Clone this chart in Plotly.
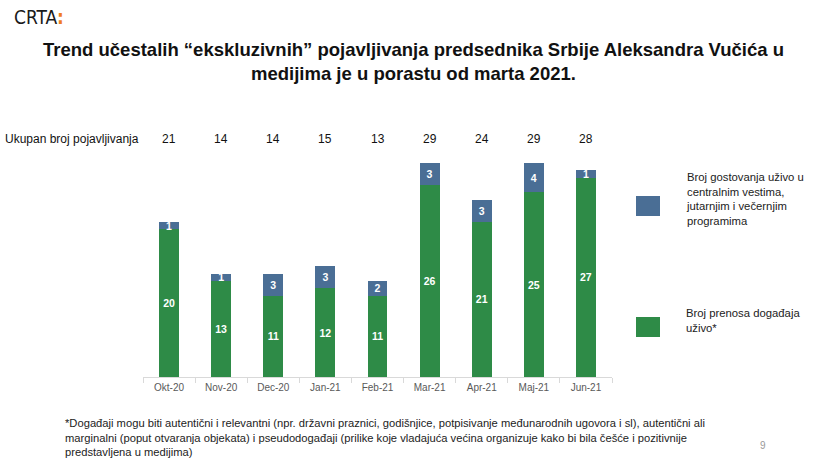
import plotly.graph_objects as go

months = ["Okt-20", "Nov-20", "Dec-20", "Jan-21", "Feb-21", "Mar-21", "Apr-21", "Maj-21", "Jun-21"]
prenos = [20, 13, 11, 12, 11, 26, 21, 25, 27]
gostovanja = [1, 1, 3, 3, 2, 3, 3, 4, 1]
ukupno = [21, 14, 14, 15, 13, 29, 24, 29, 28]

GREEN = "#2E8B47"
BLUE = "#4A6E95"

W, H = 825, 461
pl, pr, pt, pb = 143, 213, 157, 84
pw, ph = W - pl - pr, H - pt - pb


def px_x(x):
    return (x - pl) / pw


def px_y(y):
    return (H - pb - y) / ph


fig = go.Figure()
fig.add_trace(go.Bar(
    x=months, y=prenos, name="Broj prenosa događaja uživo*",
    marker=dict(color=GREEN, line=dict(width=0)),
    text=prenos, textposition="inside", insidetextanchor="middle", textangle=0,
    textfont=dict(color="white", size=10.5, family="Liberation Sans", weight="bold"),
    hoverinfo="x+y", showlegend=False,
))
fig.add_trace(go.Bar(
    x=months, y=gostovanja,
    name="Broj gostovanja uživo u centralnim vestima, jutarnjim i večernjim programima",
    marker=dict(color=BLUE, line=dict(width=0)),
    text=gostovanja, textposition="inside", insidetextanchor="middle", textangle=0,
    textfont=dict(color="white", size=10.5, family="Liberation Sans", weight="bold"),
    hoverinfo="x+y", showlegend=False,
))

fig.update_layout(
    width=W, height=H,
    margin=dict(l=pl, r=pr, t=pt, b=pb),
    paper_bgcolor="white", plot_bgcolor="white",
    barmode="stack", bargap=0.62,
    uniformtext=dict(minsize=9, mode="show"),
    font=dict(family="Liberation Sans", color="#222222"),
    xaxis=dict(
        showline=True, linecolor="#D9D9D9", linewidth=1,
        ticks="outside", tickson="boundaries", ticklen=5, tickcolor="#D9D9D9",
        tickfont=dict(size=10, color="#595959", family="Liberation Sans"),
        ticklabelstandoff=1,
        showgrid=False, zeroline=False, fixedrange=True,
    ),
    yaxis=dict(range=[0, 29.8], visible=False, showgrid=False, zeroline=False, fixedrange=True),
)

# totals row
for m, v in zip(months, ukupno):
    fig.add_annotation(x=m, xref="x", y=px_y(139), yref="paper", text=str(v), showarrow=False,
                       yanchor="middle", font=dict(size=12, color="#111111", family="Liberation Sans"))

ann = [
    dict(x=3, y=139, xanchor="left", text="Ukupan broj pojavljivanja",
         font=dict(size=12, color="#111111", family="Liberation Sans")),
    dict(x=413, y=61, xanchor="center", align="center",
         text="<b>Trend učestalih “ekskluzivnih” pojavljivanja predsednika Srbije Aleksandra Vučića u<br>medijima je u porastu od marta 2021.</b>",
         font=dict(size=18.5, color="#111111", family="Liberation Sans")),
    dict(x=12, y=17, xanchor="left",
         text="CRTA<span style='color:#F07C21'><b>:</b></span>",
         font=dict(size=19, color="#1a1a1a", family="DejaVu Sans Condensed")),
    dict(x=684, y=199, xanchor="left", align="left",
         text="Broj gostovanja uživo u<br>centralnim vestima,<br>jutarnjim i večernjim<br>programima",
         font=dict(size=11.3, color="#222222", family="Liberation Sans")),
    dict(x=684, y=320, xanchor="left", align="left",
         text="Broj prenosa događaja<br>uživo*",
         font=dict(size=11.3, color="#222222", family="Liberation Sans")),
    dict(x=63, y=437, xanchor="left", align="left",
         text="*Događaji mogu biti autentični i relevantni (npr. državni praznici, godišnjice, potpisivanje međunarodnih ugovora i sl), autentični ali<br>marginalni (poput otvaranja objekata) i pseudodogađaji (prilike koje vladajuća većina organizuje kako bi bila češće i pozitivnije<br>predstavljena u medijima)",
         font=dict(size=11.2, color="#222222", family="Liberation Sans")),
    dict(x=763, y=445, xanchor="center", text="9",
         font=dict(size=10, color="#999999", family="Liberation Sans")),
]
for a in ann:
    a = dict(a)
    a["x"] = px_x(a["x"])
    a["y"] = px_y(a["y"])
    fig.add_annotation(xref="paper", yref="paper", yanchor="middle", showarrow=False, **a)

for color, y0, y1 in [(BLUE, 196, 216), (GREEN, 317, 337)]:
    fig.add_shape(type="rect", xref="paper", yref="paper",
                  x0=px_x(636), x1=px_x(660), y0=px_y(y1), y1=px_y(y0),
                  fillcolor=color, line=dict(width=0))

fig.write_html("out.html", config={"displayModeBar": False},
               post_script="document.body.style.margin='0';document.body.style.overflow='hidden';")
